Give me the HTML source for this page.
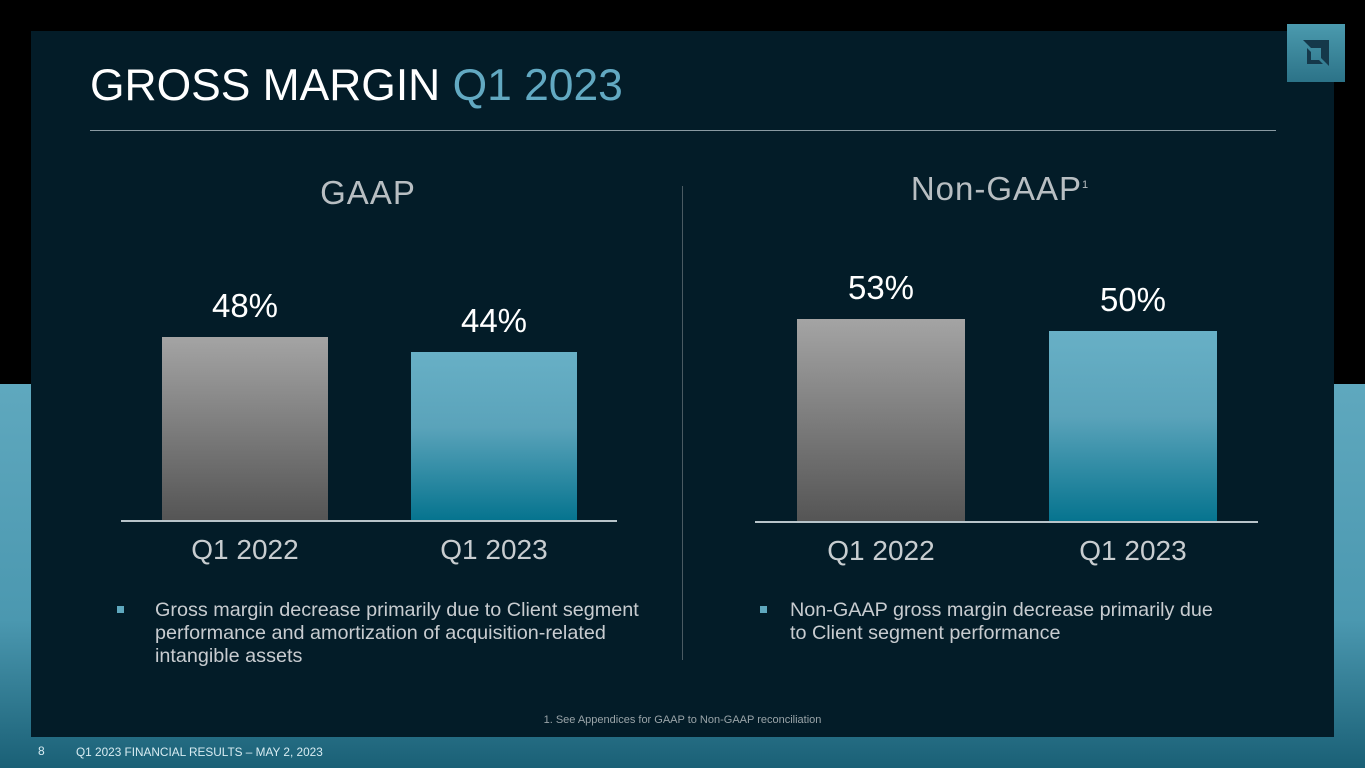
<!DOCTYPE html>
<html><head><meta charset="utf-8"><style>
body{margin:0;width:1365px;height:768px;overflow:hidden;font-family:"Liberation Sans",sans-serif;position:relative;
background:linear-gradient(180deg,#000 0,#000 384px,#5fa8be 384px,#4b98b0 620px,#1a6076 768px)}
.panel{position:absolute;left:31px;top:31px;width:1303px;height:706px;background:#031c28}
.abs{position:absolute}
.lab{position:absolute;color:#fff;font-size:33px;text-align:center;width:200px}
.cat{position:absolute;color:#c8cdd0;font-size:28px;text-align:center;width:200px}
.bul{position:absolute;color:#c8ccd0;font-size:19.8px;line-height:23px}
</style></head><body>
<div class="panel"></div>
<div class="abs" style="left:1287px;top:24px;width:58px;height:58px;background:linear-gradient(#4b9aae,#2c7388)">
<svg width="58" height="58"><path d="M16 16h26v26l-8-8v-10h-10z M20 24l4 4v8h8l4 4h-16z" fill="#15384a"/></svg></div>
<div class="abs" style="left:90px;top:61px;font-size:44.4px;color:#fff">GROSS MARGIN <span style="color:#62a9c2">Q1 2023</span></div>
<div class="abs" style="left:90px;top:130px;width:1186px;height:1px;background:#8a9aa2"></div>
<div class="abs" style="left:268px;top:174px;width:200px;text-align:center;font-size:33px;color:#b8bec2;letter-spacing:1px">GAAP</div>
<div class="abs" style="left:880px;top:170px;width:240px;text-align:center;font-size:33px;color:#b8bec2;letter-spacing:1px">Non-GAAP<sup style="font-size:11px">1</sup></div>
<div class="abs" style="left:682px;top:186px;width:1px;height:474px;background:#4a5a62"></div>
<div id="charts"></div>
<div class="bul" style="left:155px;top:599px;width:500px"><span class="abs" style="left:-38px;top:7px;width:7px;height:7px;background:#5fa8be"></span>Gross margin decrease primarily due to Client segment performance and amortization of acquisition-related intangible assets</div>
<div class="bul" style="left:790px;top:599px;width:435px"><span class="abs" style="left:-30px;top:7px;width:7px;height:7px;background:#5fa8be"></span>Non-GAAP gross margin decrease primarily due to Client segment performance</div>
<div class="abs" style="left:0;width:1365px;text-align:center;top:714px;font-size:11px;color:#9aa4a8">1. See Appendices for GAAP to Non-GAAP reconciliation</div>
<div class="abs" style="left:38px;top:744px;font-size:12px;color:#d8ecf2">8</div>
<div class="abs" style="left:76px;top:745px;font-size:11.8px;color:#d8ecf2">Q1 2023 FINANCIAL RESULTS – MAY 2, 2023</div>
<script>
const categories=["Q1 2022","Q1 2023"];
const gaapValues=[48,44];
const nonGaapValues=[53,50];
const charts=[
 {name:"gaap",vals:gaapValues,base:520,axis:[121,617],bars:[162,411],w:166},
 {name:"nongaap",vals:nonGaapValues,base:521,axis:[755,1258],bars:[797,1049],w:168}];
const scale=3.81;
const root=document.getElementById('charts');
charts.forEach(c=>{
 const ax=document.createElement('div');
 
 
 ax.className='abs';ax.style.cssText=`left:${c.axis[0]}px;top:${c.base}px;width:${c.axis[1]-c.axis[0]}px;height:2px;background:#b8c4ca`;
 root.appendChild(ax);
 c.vals.forEach((v,i)=>{
  const h=v*scale,x=c.bars[i];
  const b=document.createElement('div');
  
  
  b.className='abs';
  b.style.cssText=`left:${x}px;top:${c.base-h}px;width:${c.w}px;height:${h}px;background:${i==0?'linear-gradient(#a4a4a4,#555)':'linear-gradient(#68b0c6,#5aa3ba 45%,#06748f)'}`;
  root.appendChild(b);
  const l=document.createElement('div');
  
  
  l.className='lab';l.style.left=(x+c.w/2-100)+'px';l.style.top=(c.base-h-50)+'px';l.textContent=v+'%';
  root.appendChild(l);
  const t=document.createElement('div');
  
  
  t.className='cat';t.style.left=(x+c.w/2-100)+'px';t.style.top=(c.base+14)+'px';t.textContent=categories[i];
  root.appendChild(t);
 });
});
</script>
</body></html>
